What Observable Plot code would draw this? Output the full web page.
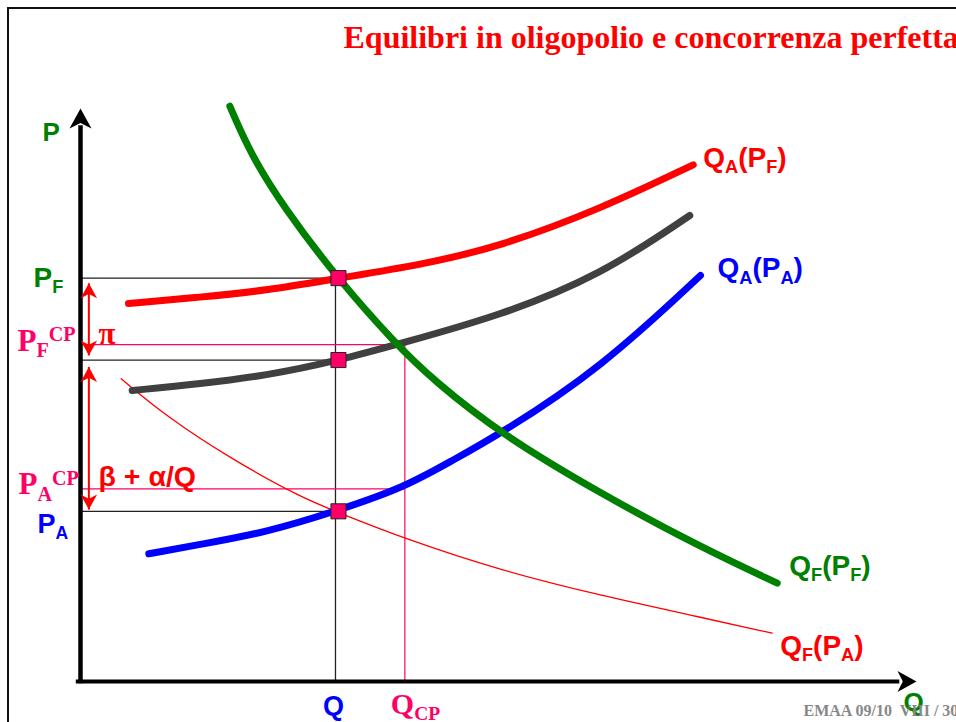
<!DOCTYPE html>
<html>
<head>
<meta charset="utf-8">
<script src="https://cdn.jsdelivr.net/npm/d3@7"></script>
<script src="https://cdn.jsdelivr.net/npm/@observablehq/plot@0.6"></script>
<style>
html, body { margin: 0; padding: 0; background: #fff; }
#wrap { position: relative; width: 956px; height: 722px; overflow: hidden; }
#wrap svg { position: absolute; left: 0; top: 0; }
#frame { position: absolute; left: 7px; top: 7px; width: 1200px; height: 1200px;
  border-top: 2.5px solid #111; border-left: 2.5px solid #111; pointer-events: none; }
</style>
</head>
<body>
<div id="wrap"></div>
<script>
// ---------- values (Q on x, P on y, both on a 0–100 scale) ----------
const Q = 30.5;        // oligopoly quantity
const Q_CP = 38.8;     // perfect competition quantity
const P_F = 70.4;
const P_F_CP = 58.8;
const P_MID = 56.1;
const P_A_CP = 33.6;
const P_A = 29.7;

// curves as [Q, P] points
const curveQA_PF = [[5.74,65.97],[14.35,67.07],[22.33,68.24],[30.83,70.38],[40.67,72.69],[50.24,75.92],[62.20,82.46],[73.29,90.17]];
const curveMid   = [[6.18,50.79],[14.35,51.95],[22.33,53.40],[30.83,56.02],[38.28,58.99],[50.24,63.87],[62.20,70.86],[72.88,81.33]];
const curveQA_PA = [[8.17,22.29],[14.35,23.94],[22.33,26.06],[30.83,29.84],[38.79,33.91],[44.26,38.40],[50.24,43.23],[62.20,54.62],[74.16,70.86]];
const curveQF_PF = [[17.86,100.40],[20.33,92.09],[24.32,82.72],[30.65,70.50],[37.68,58.94],[42.26,52.53],[50.24,43.23],[62.20,32.81],[74.16,23.44],[83.34,17.16]];
const curveQF_PA = [[4.87,52.83],[10.37,46.13],[18.34,38.57],[26.32,32.16],[30.83,29.49],[38.79,24.90],[50.24,19.37],[62.20,15.01],[74.16,11.22],[82.74,8.43]];

// double-headed red arrows on the price axis
const arrowQ = 1.0;
const piArrow = [69.5, 56.9];
const betaArrow = [54.9, 30.0];

// labels
const titleText = "Equilibri in oligopolio e concorrenza perfetta";
const footerText = "EMAA 09/10\u00a0 VIII / 30";
const labelQA_PF = "Q_{A}(P_{F})";
const labelQA_PA = "Q_{A}(P_{A})";
const labelQF_PF = "Q_{F}(P_{F})";
const labelQF_PA = "Q_{F}(P_{A})";
const labelPF = "P_{F}";
const labelPFCP = "P_{F}^{CP}";
const labelPACP = "P_{A}^{CP}";
const labelPA = "P_{A}";
const labelQ = "Q";
const labelQCP = "Q_{CP}";
const labelPi = "π";
const labelBeta = "β + α/Q";
const axisLabelP = "P";
const axisLabelQ = "Q";

// ---------- styling ----------
const SANS = "Liberation Sans, Arial, sans-serif";
const SERIF = "Liberation Serif, Times New Roman, serif";
const RED = "#ff0000", GRAY = "#404040", BLUE = "#0000ff", GREEN = "#008000", PINK = "#ff0066";

const stealth = {
  draw(ctx, size) {
    const r = Math.sqrt(size / Math.PI);
    const L = 2 * r, w = 1.1 * r;
    ctx.moveTo(0, 0);
    ctx.lineTo(w, L);
    ctx.lineTo(0, 0.72 * L);
    ctx.lineTo(-w, L);
    ctx.closePath();
  }
};

const curve = (data, stroke, strokeWidth) =>
  Plot.line(data, {x: d => d[0], y: d => d[1], stroke, strokeWidth, curve: "basis", strokeLinecap: "round"});

const label = (pt, text, opts) =>
  Plot.text([pt], {x: d => d[0], y: d => d[1], text: () => text, lineAnchor: "bottom",
    textAnchor: "start", fontWeight: "bold", fontFamily: SANS, fontSize: 28, ...opts});

const blackGuides = [[0, P_F, Q, P_F], [Q, P_F, Q, 0], [0, P_MID, Q, P_MID], [0, P_A, Q, P_A]];
const pinkGuides = [[0, P_F_CP, Q_CP, P_F_CP], [Q_CP, P_F_CP, Q_CP, 0], [0, P_A_CP, Q_CP, P_A_CP]];
const redArrows = [piArrow, betaArrow];
const redHeads = redArrows.flatMap(([a, b]) => [{p: a, rot: 0}, {p: b, rot: 180}]);
const markers = [[Q, P_F], [Q, P_MID], [Q, P_A]];

const chart = Plot.plot({
  width: 956,
  height: 722,
  marginLeft: 80,
  marginRight: 40,
  marginTop: 108,
  marginBottom: 41,
  x: {domain: [0, 100], axis: null},
  y: {domain: [0, 100], axis: null},
  marks: [
    // guides
    Plot.link(blackGuides, {x1: d => d[0], y1: d => d[1], x2: d => d[2], y2: d => d[3], stroke: "#222", strokeWidth: 1.3}),
    Plot.link(pinkGuides, {x1: d => d[0], y1: d => d[1], x2: d => d[2], y2: d => d[3], stroke: PINK, strokeWidth: 1.2}),
    // curves
    curve(curveQF_PA, RED, 1.3),
    curve(curveQA_PF, RED, 7),
    curve(curveMid, GRAY, 7),
    curve(curveQA_PA, BLUE, 7),
    curve(curveQF_PF, GREEN, 7),
    // axes
    Plot.ruleX([0], {y1: -0.4, y2: 97, stroke: "#000", strokeWidth: 4.5}),
    Plot.ruleY([0], {x1: -0.5, x2: 98, stroke: "#000", strokeWidth: 4.2}),
    Plot.dot([[0, 100]], {x: d => d[0], y: d => d[1], symbol: stealth, r: 10, fill: "#000", stroke: "none"}),
    Plot.dot([[100, 0]], {x: d => d[0], y: d => d[1], symbol: stealth, r: 9.5, rotate: 90, fill: "#000", stroke: "none"}),
    // red double arrows
    Plot.link(redArrows, {x1: arrowQ, x2: arrowQ, y1: d => d[0], y2: d => d[1], stroke: RED, strokeWidth: 2}),
    Plot.dot(redHeads, {x: arrowQ, y: "p", rotate: "rot", symbol: stealth, r: 7.5, fill: RED, stroke: "none"}),
    // equilibrium markers
    Plot.dot(markers, {x: d => d[0], y: d => d[1], symbol: "square", r: 8.5, dx: 3, fill: PINK, stroke: "#222", strokeWidth: 1}),
    // curve labels
    label(curveQA_PF.at(-1), labelQA_PF, {fill: RED, dx: 10, dy: 2}),
    label(curveQA_PA.at(-1), labelQA_PA, {fill: BLUE, dx: 17, dy: 2}),
    label(curveQF_PF.at(-1), labelQF_PF, {fill: GREEN, dx: 12, dy: -8}),
    label(curveQF_PA.at(-1), labelQF_PA, {fill: RED, dx: 8, dy: 22}),
    // axis labels
    label([0, 100], axisLabelP, {fill: GREEN, fontSize: 26, dx: -38, dy: 32}),
    label([100, 0], axisLabelQ, {fill: GREEN, fontSize: 26, dx: -13, dy: 29}),
    label([0, P_F], labelPF, {fill: GREEN, dx: -47, dy: 9}),
    label([0, P_A], labelPA, {fill: BLUE, fontSize: 27, dx: -43, dy: 22}),
    label([0, P_F_CP], labelPFCP, {fill: PINK, fontFamily: SERIF, fontSize: 31, dx: -63, dy: 6}),
    label([0, P_A_CP], labelPACP, {fill: PINK, fontFamily: SERIF, fontSize: 31, dx: -62, dy: 5}),
    label([Q, 0], labelQ, {fill: BLUE, fontSize: 27, textAnchor: "middle", dx: -2, dy: 33}),
    label([Q_CP, 0], labelQCP, {fill: PINK, fontFamily: SERIF, fontSize: 30, dx: -14, dy: 32}),
    label([0, P_F_CP], labelPi, {fill: RED, fontFamily: SERIF, fontSize: 31, dx: 18, dy: -1}),
    label([0, P_A_CP], labelBeta, {fill: RED, fontSize: 28.5, dx: 18, dy: -3}),
    // title and footer
    Plot.text([titleText], {text: d => d, frameAnchor: "top-left", dx: 263, dy: -61, lineAnchor: "bottom",
      textAnchor: "start", fill: RED, fontFamily: SERIF, fontWeight: "bold", fontSize: 32}),
    Plot.text([footerText], {text: d => d, frameAnchor: "bottom-left", dx: 723, dy: 34, lineAnchor: "bottom",
      textAnchor: "start", fill: "#888", fontFamily: SERIF, fontWeight: "bold", fontSize: 16})
  ]
});

// sub/superscript markup: _{..} and ^{..}
const R = 0.65, SUB = 0.22, SUP = -0.3;
chart.querySelectorAll("text").forEach(t => {
  const s = t.textContent;
  if (!/[_^]\{/.test(s)) return;
  t.textContent = "";
  const re = /([_^])\{([^}]*)\}|([^_^]+)/g;
  let m, cur = 0;
  while ((m = re.exec(s))) {
    const ts = document.createElementNS("http://www.w3.org/2000/svg", "tspan");
    if (m[3] !== undefined) {
      ts.textContent = m[3];
      if (cur !== 0) ts.setAttribute("dy", `${-cur}em`);
      cur = 0;
    } else {
      const target = m[1] === "_" ? SUB : SUP;
      ts.setAttribute("font-size", `${R}em`);
      ts.setAttribute("dy", `${(target - cur) / R}em`);
      ts.textContent = m[2];
      cur = target;
    }
    t.appendChild(ts);
  }
});

const wrap = document.getElementById("wrap");
wrap.appendChild(chart);
const frame = document.createElement("div");
frame.id = "frame";
wrap.appendChild(frame);
</script>
</body>
</html>
